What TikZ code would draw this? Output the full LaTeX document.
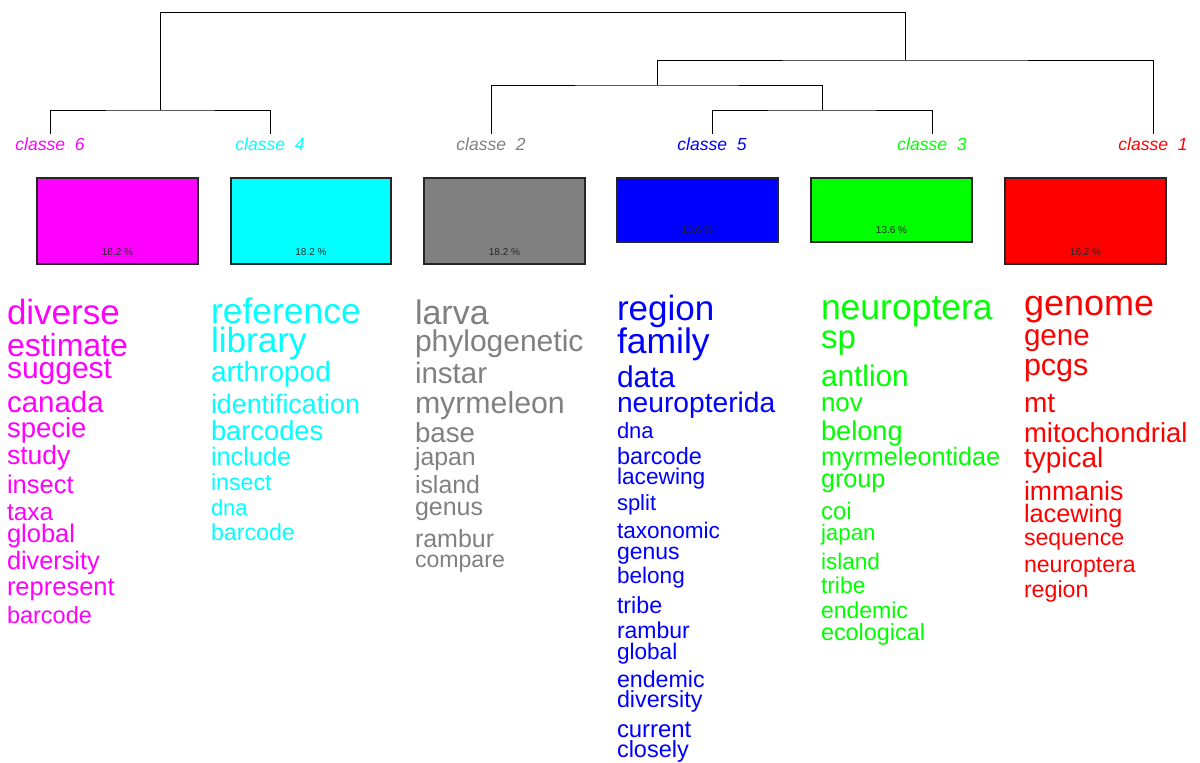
\documentclass[tikz,border=0pt]{standalone}
\usepackage{fontspec}
\setmainfont{Liberation Sans}
\definecolor{cmag}{HTML}{FF00FF}
\definecolor{ccya}{HTML}{00FFFF}
\definecolor{cgry}{HTML}{808080}
\definecolor{cblu}{HTML}{0000FF}
\definecolor{cgrn}{HTML}{00FF00}
\definecolor{cred}{HTML}{FF0000}
\newcommand\fsz[1]{\fontsize{#1}{#1}\selectfont}
\tikzset{
  word/.style={anchor=base west, inner sep=0pt, outer sep=0pt},
  dend/.style={draw=black, line width=0.9pt},
  clab/.style={anchor=base, inner sep=0pt, font=\fsz{17.5}\itshape},
  cbox/.style={draw=black!85, line width=1.3pt, inner sep=0pt},
  pct/.style={anchor=base, inner sep=0pt, font=\fsz{10}, text=black!85},
}
\begin{document}
\begin{tikzpicture}[x=1pt,y=-1pt]
\useasboundingbox (0,0) rectangle (1200,763);
% dendrogram coordinates
\coordinate (l6) at (50,134); \coordinate (l4) at (270,134);
\coordinate (l2) at (491,134); \coordinate (l5) at (712,134);
\coordinate (l3) at (932,134); \coordinate (l1) at (1153,134);
\coordinate (j64) at (160,110); \coordinate (j53) at (822,110);
\coordinate (j253) at (657,85); \coordinate (jr) at (905,60);
\coordinate (top) at (0,12);
\draw[dend] (l6) |- (j64) -| (l4);
\draw[dend] (l5) |- (j53) -| (l3);
\draw[dend] (l2) |- (j253) -| (j53);
\draw[dend] (j253) |- (jr) -| (l1);
\draw[dend] (j64) |- (top -| jr) -- (jr);
% class labels
\node[clab, text=cmag] (c6) at (50,150) {classe\ \ 6};
\node[clab, text=ccya] (c4) at (270,150) {classe\ \ 4};
\node[clab, text=cgry] (c2) at (491,150) {classe\ \ 2};
\node[clab, text=cblu] (c5) at (712,150) {classe\ \ 5};
\node[clab, text=cgrn] (c3) at (932,150) {classe\ \ 3};
\node[clab, text=cred] (c1) at (1153,150) {classe\ \ 1};
% boxes
\filldraw[cbox, fill=cmag] (37,178) rectangle (198,264);
\filldraw[cbox, fill=ccya] (231,178) rectangle (391,264);
\filldraw[cbox, fill=cgry] (424,178) rectangle (585,264);
\filldraw[cbox, fill=cblu] (617,178) rectangle (778,242);
\filldraw[cbox, fill=cgrn] (811,178) rectangle (972,242);
\filldraw[cbox, fill=cred] (1005,178) rectangle (1166,264);
\node[pct] (p6) at (117.5,255) {18.2 \%};
\node[pct] (p4) at (311,255) {18.2 \%};
\node[pct] (p2) at (504.5,255) {18.2 \%};
\node[pct] (p5) at (697.5,233) {13.6 \%};
\node[pct] (p3) at (891.5,233) {13.6 \%};
\node[pct] (p1) at (1085.5,255) {18.2 \%};
% class 6 words
\begin{scope}[every node/.append style={word, text=cmag}]
\node[font=\fsz{35}] (m1) at (7,324) {diverse};
\node[font=\fsz{32}] (m2) at (7,356) {estimate};
\node[font=\fsz{30}] (m3) at (7,378) {suggest};
\node[font=\fsz{29.5}] (m4) at (7,412) {canada};
\node[font=\fsz{27.5}] (m5) at (7,437) {specie};
\node[font=\fsz{26.5}] (m6) at (7,464) {study};
\node[font=\fsz{25.5}] (m7) at (7,493) {insect};
\node[font=\fsz{24.5}] (m8) at (7,520) {taxa};
\node[font=\fsz{25.5}] (m9) at (7,542) {global};
\node[font=\fsz{25.3}] (m10) at (7,569) {diversity};
\node[font=\fsz{25.5}] (m11) at (7,595) {represent};
\node[font=\fsz{23.5}] (m12) at (7,623) {barcode};
\end{scope}
% class 4 words
\begin{scope}[every node/.append style={word, text=ccya}]
\node[font=\fsz{35.5}] (k1) at (211,323) {reference};
\node[font=\fsz{35.2}] (k2) at (211,352) {library};
\node[font=\fsz{28}] (k3) at (211,381) {arthropod};
\node[font=\fsz{26.8}] (k4) at (211,413) {identification};
\node[font=\fsz{27.3}] (k5) at (211,440) {barcodes};
\node[font=\fsz{25.3}] (k6) at (211,465) {include};
\node[font=\fsz{23.2}] (k7) at (211,490) {insect};
\node[font=\fsz{22}] (k8) at (211,515) {dna};
\node[font=\fsz{23.2}] (k9) at (211,540) {barcode};
\end{scope}
% class 2 words
\begin{scope}[every node/.append style={word, text=cgry}]
\node[font=\fsz{34}] (g1) at (415,324) {larva};
\node[font=\fsz{30}] (g2) at (415,351) {phylogenetic};
\node[font=\fsz{29.5}] (g3) at (415,383) {instar};
\node[font=\fsz{30.3}] (g4) at (415,413) {myrmeleon};
\node[font=\fsz{27.7}] (g5) at (415,442) {base};
\node[font=\fsz{24.8}] (g6) at (415,465) {japan};
\node[font=\fsz{24.9}] (g7) at (415,493) {island};
\node[font=\fsz{25}] (g8) at (415,515) {genus};
\node[font=\fsz{25}] (g9) at (415,547) {rambur};
\node[font=\fsz{23.1}] (g10) at (415,567) {compare};
\end{scope}
% class 5 words
\begin{scope}[every node/.append style={word, text=cblu}]
\node[font=\fsz{35}] (b1) at (617,320) {region};
\node[font=\fsz{35.5}] (b2) at (617,353) {family};
\node[font=\fsz{30}] (b3) at (617,387) {data};
\node[font=\fsz{28.2}] (b4) at (617,412) {neuropterida};
\node[font=\fsz{22}] (b5) at (617,438) {dna};
\node[font=\fsz{23.5}] (b6) at (617,464) {barcode};
\node[font=\fsz{22.7}] (b7) at (617,484) {lacewing};
\node[font=\fsz{22}] (b8) at (617,510) {split};
\node[font=\fsz{22.6}] (b9) at (617,538) {taxonomic};
\node[font=\fsz{23}] (b10) at (617,559) {genus};
\node[font=\fsz{22.6}] (b11) at (617,583) {belong};
\node[font=\fsz{23.3}] (b12) at (617,613) {tribe};
\node[font=\fsz{23}] (b13) at (617,638) {rambur};
\node[font=\fsz{22.6}] (b14) at (617,659) {global};
\node[font=\fsz{23.2}] (b15) at (617,687) {endemic};
\node[font=\fsz{23.3}] (b16) at (617,707) {diversity};
\node[font=\fsz{23.9}] (b17) at (617,737) {current};
\node[font=\fsz{23.5}] (b18) at (617,757) {closely};
\end{scope}
% class 3 words
\begin{scope}[every node/.append style={word, text=cgrn}]
\node[font=\fsz{35.5}] (n1) at (821,319) {neuroptera};
\node[font=\fsz{33}] (n2) at (821,348) {sp};
\node[font=\fsz{29.8}] (n3) at (821,386) {antlion};
\node[font=\fsz{26}] (n4) at (821,411) {nov};
\node[font=\fsz{27.2}] (n5) at (821,440) {belong};
\node[font=\fsz{25.2}] (n6) at (821,465) {myrmeleontidae};
\node[font=\fsz{25.2}] (n7) at (821,487) {group};
\node[font=\fsz{24}] (n8) at (821,519) {coi};
\node[font=\fsz{22.3}] (n9) at (821,540) {japan};
\node[font=\fsz{22.6}] (n10) at (821,569) {island};
\node[font=\fsz{22.9}] (n11) at (821,593) {tribe};
\node[font=\fsz{23}] (n12) at (821,618) {endemic};
\node[font=\fsz{23.4}] (n13) at (821,640) {ecological};
\end{scope}
% class 1 words
\begin{scope}[every node/.append style={word, text=cred}]
\node[font=\fsz{36}] (r1) at (1024,315) {genome};
\node[font=\fsz{29.6}] (r2) at (1024,345) {gene};
\node[font=\fsz{30.5}] (r3) at (1024,375) {pcgs};
\node[font=\fsz{28}] (r4) at (1024,412) {mt};
\node[font=\fsz{27.5}] (r5) at (1024,442) {mitochondrial};
\node[font=\fsz{28}] (r6) at (1024,467) {typical};
\node[font=\fsz{26.7}] (r7) at (1024,500) {immanis};
\node[font=\fsz{25.3}] (r8) at (1024,522) {lacewing};
\node[font=\fsz{23.1}] (r9) at (1024,545) {sequence};
\node[font=\fsz{23.1}] (r10) at (1024,572) {neuroptera};
\node[font=\fsz{23.2}] (r11) at (1024,597) {region};
\end{scope}
\end{tikzpicture}
\end{document}
